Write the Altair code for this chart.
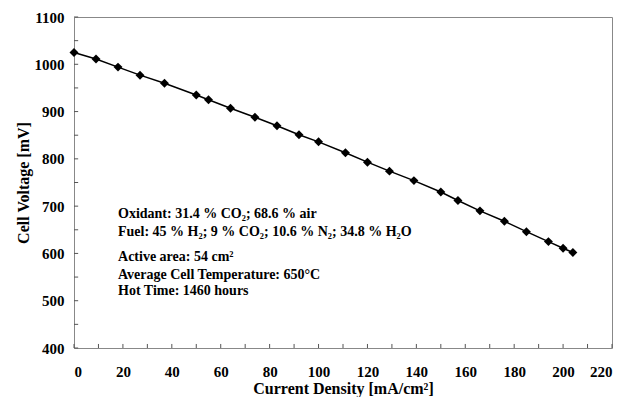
import altair as alt
import pandas as pd

# ---- data ----
current_density = [0, 9, 18, 27, 37, 50, 55, 64, 74, 83, 92, 100, 111,
                   120, 129, 139, 150, 157, 166, 176, 185, 194, 200, 204]
cell_voltage = [1025, 1011, 994, 977, 960, 935, 925, 907, 888, 870, 851, 836, 813,
                793, 774, 754, 730, 712, 690, 668, 646, 625, 611, 602]

x_tick_values = list(range(0, 221, 10))
y_tick_values = list(range(400, 1101, 50))
x_label_values = list(range(0, 221, 20))
y_label_values = list(range(400, 1101, 100))

annotation_lines = [
    "Oxidant: 31.4 % CO\u2082; 68.6 % air",
    "Fuel: 45 % H\u2082; 9 % CO\u2082; 10.6 % N\u2082; 34.8 % H\u2082O",
    "Active area: 54 cm\u00b2",
    "Average Cell Temperature: 650\u00b0C",
    "Hot Time: 1460 hours",
]
annotation_x = [18, 18, 18, 18, 18]
annotation_v = [683, 645, 592, 554, 521]

FONT = "Liberation Serif"

df = pd.DataFrame({"cd": current_density, "v": cell_voltage})
xt = pd.DataFrame({"x": x_tick_values})
yt = pd.DataFrame({"y": y_tick_values})
ann = pd.DataFrame({"t": annotation_lines, "x": annotation_x, "y": annotation_v})

xscale = alt.Scale(domain=[0, 220], nice=False, zero=False)
yscale = alt.Scale(domain=[400, 1100], nice=False, zero=False)

xaxis = alt.Axis(values=x_label_values, format="d", ticks=False, domain=False, grid=False,
                 labelFont=FONT, labelFontSize=15, labelFontWeight="bold", labelColor="black",
                 labelPadding=16, title="Current Density [mA/cm\u00b2]", titleFont=FONT,
                 titleFontSize=16, titleFontWeight="bold", titleColor="black", titlePadding=1)
yaxis = alt.Axis(values=y_label_values, format="d", ticks=False, domain=False, grid=False,
                 labelFont=FONT, labelFontSize=15, labelFontWeight="bold", labelColor="black",
                 labelPadding=10, title="Cell Voltage [mV]", titleFont=FONT,
                 titleFontSize=16, titleFontWeight="bold", titleColor="black", titlePadding=3)

base = alt.Chart(df)
line = base.mark_line(color="black", strokeWidth=1.5).encode(
    x=alt.X("cd:Q", scale=xscale, axis=xaxis),
    y=alt.Y("v:Q", scale=yscale, axis=yaxis),
)
points = base.mark_point(shape="diamond", filled=True, color="black", size=80, opacity=1).encode(
    x=alt.X("cd:Q", scale=xscale),
    y=alt.Y("v:Q", scale=yscale),
)

xticks = alt.Chart(xt).mark_rule(color="#555", strokeWidth=1).encode(
    x=alt.X("x:Q", scale=xscale),
    y=alt.datum(400),
    y2=alt.datum(408.5),
)
yticks = alt.Chart(yt).mark_rule(color="#555", strokeWidth=1).encode(
    y=alt.Y("y:Q", scale=yscale),
    x=alt.datum(0),
    x2=alt.datum(1.7),
)

text = alt.Chart(ann).mark_text(align="left", baseline="middle", font=FONT,
                                fontSize=14, fontWeight="bold", color="black").encode(
    x=alt.X("x:Q", scale=xscale),
    y=alt.Y("y:Q", scale=yscale),
    text="t:N",
)

chart = alt.layer(xticks, yticks, line, points, text).properties(
    width=538, height=331,
    autosize=alt.AutoSizeParams(type="none"),
    padding={"left": 74, "top": 17, "right": 14, "bottom": 49},
    background="white",
).configure_view(stroke="#888", strokeWidth=1)

chart.save("out.html", embed_options={"renderer": "svg", "actions": False})
